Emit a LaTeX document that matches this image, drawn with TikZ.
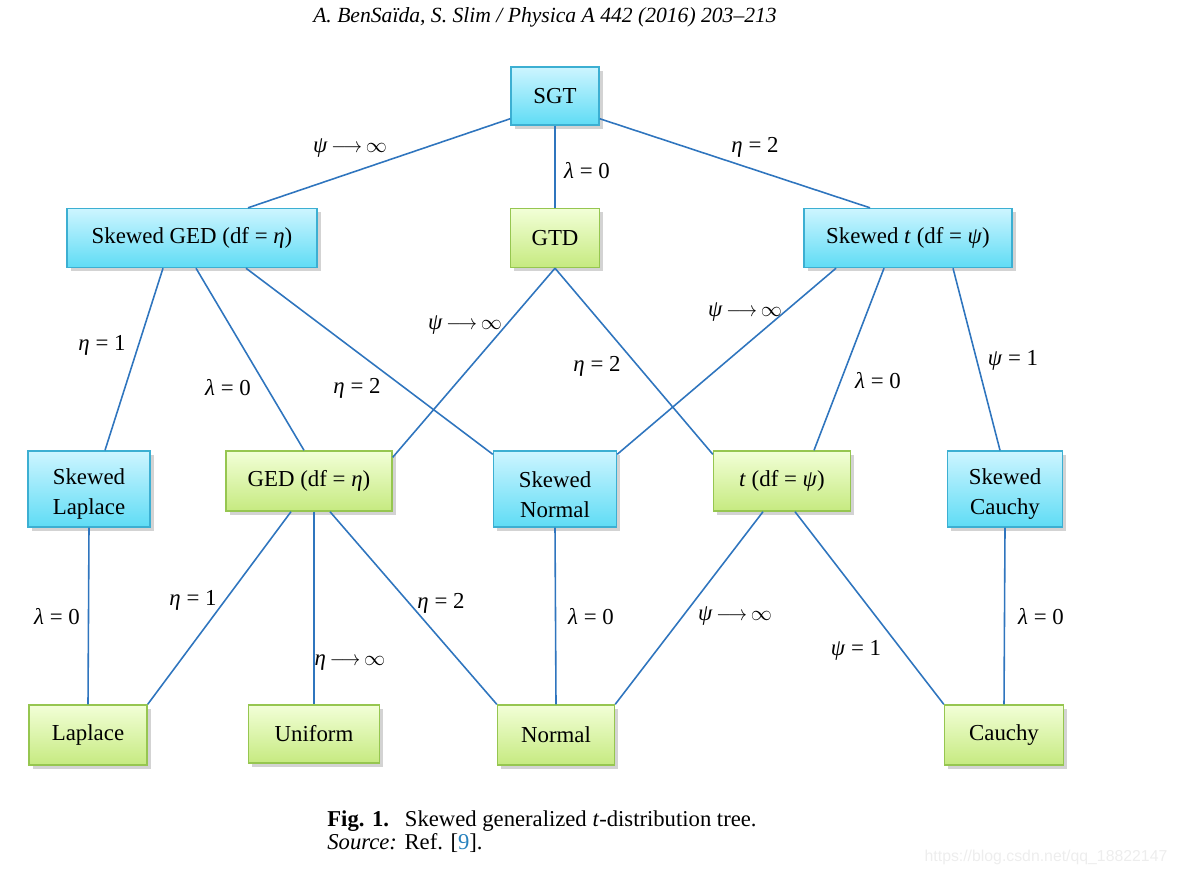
\documentclass[tikz,border=0pt]{standalone}
\usepackage{fontspec}
\setmainfont{Liberation Serif}
\setsansfont{Liberation Sans}
\usepackage{xcolor}
\usetikzlibrary{positioning,calc,shadows}
\definecolor{edgeblue}{RGB}{47,117,190}
\definecolor{blutop}{RGB}{205,245,255}
\definecolor{blubot}{RGB}{95,220,245}
\definecolor{bluline}{RGB}{60,175,210}
\definecolor{grntop}{RGB}{242,255,215}
\definecolor{grnbot}{RGB}{198,234,128}
\definecolor{grnline}{RGB}{150,198,80}
\definecolor{refblue}{RGB}{40,130,190}
\newcommand{\tends}{\,\scalebox{0.9}[1]{$\longrightarrow$}\,$\infty$}
\newcommand{\up}{\rule{0pt}{15pt}}

\begin{document}
\begin{tikzpicture}[
    x=0.2mm, y=-0.2mm,
    box/.style={draw, line width=0.8pt, inner sep=0pt, align=center,
        font=\fontsize{13}{17}\selectfont,
        drop shadow={shadow xshift=0.7mm, shadow yshift=-0.7mm, opacity=0.35}},
    blubox/.style={box, draw=bluline, top color=blutop, bottom color=blubot},
    grnbox/.style={box, draw=grnline, top color=grntop, bottom color=grnbot},
    edge/.style={edgeblue, line width=0.9pt},
    lbl/.style={font=\fontsize{13}{15}\selectfont, inner sep=1pt}
]
\useasboundingbox (0,0) rectangle (1177,874);

% header and caption
\node[font=\fontsize{12.3}{14}\selectfont\itshape] (head) at (545,17)
    {A. BenSaïda, S. Slim / Physica A 442 (2016) 203--213};
\node[anchor=west, inner sep=0pt, font=\fontsize{12.9}{15}\selectfont] (cap) at (327,821)
    {\textbf{Fig. 1.}\hspace{0.7em}Skewed generalized \textit{t}-distribution tree.};
\node[anchor=west, inner sep=0pt, font=\fontsize{12.9}{15}\selectfont] (src) at (327,843)
    {\textit{Source:} Ref. [\textcolor{refblue}{9}].};
\node[font=\sffamily\fontsize{9}{11}\selectfont, text=black!7] (mark) at (1046,857)
    {https://blog.csdn.net/qq\_18822147};

% level 0 and 1
\node[blubox, minimum width=88*0.2mm, minimum height=58*0.2mm] (sgt) at (555,96) {SGT};
\node[blubox, minimum width=250*0.2mm, minimum height=59*0.2mm] (sged) at (192,238) {Skewed GED (df = \textit{η})};
\node[grnbox, minimum width=89*0.2mm, minimum height=59*0.2mm] (gtd) at (555,238) {GTD};
\node[blubox, minimum width=208*0.2mm, minimum height=59*0.2mm] (skt) at (908,238) {Skewed \textit{t} (df = \textit{ψ})};

% level 2
\node[blubox, minimum width=122*0.2mm, minimum height=76*0.2mm] (slap) at (89,489) {\up Skewed\\Laplace};
\node[grnbox, minimum width=166*0.2mm, minimum height=60*0.2mm] (ged) at (309,481) {GED (df = \textit{η})};
\node[blubox, minimum width=123*0.2mm, minimum height=76*0.2mm] (snor) at (555,489) {\up Skewed\\Normal};
\node[grnbox, minimum width=137*0.2mm, minimum height=60*0.2mm] (tdst) at (782,481) {\textit{t} (df = \textit{ψ})};
\node[blubox, minimum width=115*0.2mm, minimum height=76*0.2mm] (scau) at (1005,489) {\up Skewed\\Cauchy};

% level 3
\node[grnbox, minimum width=118*0.2mm, minimum height=60*0.2mm] (lap) at (88,735) {Laplace};
\node[grnbox, minimum width=131*0.2mm, minimum height=58*0.2mm] (unif) at (314,734) {Uniform};
\node[grnbox, minimum width=117*0.2mm, minimum height=60*0.2mm] (nor) at (556,735) {Normal};
\node[grnbox, minimum width=119*0.2mm, minimum height=60*0.2mm] (cau) at (1004,735) {Cauchy};

% connectors
\draw[edge] ($(sgt.south west)+(0,-7)$) -- ($(sged.north)+(56,0)$);
\draw[edge] (sgt.south) -- (gtd.north);
\draw[edge] ($(sgt.south east)+(0,-7)$) -- ($(skt.north)+(-38,0)$);

\draw[edge] ($(sged.south)+(-29,0)$) -- ($(slap.north)+(16,0)$);
\draw[edge] ($(sged.south)+(4,0)$) -- ($(ged.north)+(-5,0)$);
\draw[edge] ($(sged.south)+(54,0)$) -- ($(snor.north west)+(0,4)$);

\draw[edge] (gtd.south) -- ($(ged.north east)+(0,7)$);
\draw[edge] (gtd.south) -- ($(tdst.north west)+(0,4)$);

\draw[edge] ($(skt.south)+(-72,0)$) -- ($(snor.north east)+(0,4)$);
\draw[edge] ($(skt.south)+(-24,0)$) -- ($(tdst.north)+(32,0)$);
\draw[edge] ($(skt.south)+(45,0)$) -- ($(scau.north)+(-5,0)$);

\draw[edge] (slap.south) -- (lap.north);
\draw[edge] ($(ged.south)+(-18,0)$) -- (lap.north east);
\draw[edge] ($(ged.south)+(5,0)$) -- (unif.north);
\draw[edge] ($(ged.south)+(21,0)$) -- (nor.north west);
\draw[edge] (snor.south) -- (nor.north);
\draw[edge] ($(tdst.south)+(-19,0)$) -- (nor.north east);
\draw[edge] ($(tdst.south)+(13,0)$) -- (cau.north west);
\draw[edge] (scau.south) -- (cau.north);

% labels
\node[lbl] (a1) at (350,148) {\textit{ψ}\tends};
\node[lbl] (a2) at (587,171) {\textit{λ} = 0};
\node[lbl] (a3) at (755,147) {\textit{η} = 2};
\node[lbl] (b1) at (102,345) {\textit{η} = 1};
\node[lbl] (b2) at (228,388) {\textit{λ} = 0};
\node[lbl] (b3) at (357,388) {\textit{η} = 2};
\node[lbl] (b4) at (465,325) {\textit{ψ}\tends};
\node[lbl] (b5) at (597,366) {\textit{η} = 2};
\node[lbl] (b6) at (745,312) {\textit{ψ}\tends};
\node[lbl] (b7) at (878,381) {\textit{λ} = 0};
\node[lbl] (b8) at (1013,360) {\textit{ψ} = 1};
\node[lbl] (c1) at (57,617) {\textit{λ} = 0};
\node[lbl] (c2) at (193,600) {\textit{η} = 1};
\node[lbl] (c3) at (350,663) {\textit{η}\tends};
\node[lbl] (c4) at (441,603) {\textit{η} = 2};
\node[lbl] (c5) at (591,617) {\textit{λ} = 0};
\node[lbl] (c6) at (735,616) {\textit{ψ}\tends};
\node[lbl] (c7) at (856,650) {\textit{ψ} = 1};
\node[lbl] (c8) at (1041,617) {\textit{λ} = 0};

\end{tikzpicture}
\end{document}
